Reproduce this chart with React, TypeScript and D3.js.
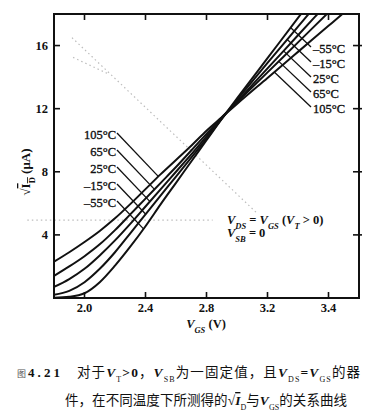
import React from "react";
import * as d3 from "d3";

// Gate-source voltage (V) sample points
const vgs = [1.8, 1.9, 2.0, 2.1, 2.2, 2.3, 2.4, 2.5, 2.6, 2.7, 2.8, 2.9, 3.0, 3.2, 3.4, 3.6, 3.8];

// sqrt(I_D) in sqrt(uA) per temperature
const sqrtIdM55 = [0.02, 0.08, 0.3, 1.0, 2.05, 3.25, 4.55, 5.95, 7.3, 8.65, 10.0, 11.35, 12.65, 15.2, 17.75, 20.25, 22.7];
const sqrtIdM15 = [0.2, 0.45, 1.0, 1.85, 2.9, 4.1, 5.3, 6.5, 7.7, 8.9, 10.1, 11.35, 12.55, 14.9, 17.2, 19.5, 21.8];
const sqrtId25 = [0.7, 1.2, 1.85, 2.7, 3.65, 4.7, 5.8, 6.9, 8.0, 9.1, 10.25, 11.4, 12.45, 14.55, 16.65, 18.75, 20.85];
const sqrtId65 = [1.4, 2.0, 2.65, 3.4, 4.3, 5.3, 6.3, 7.3, 8.3, 9.35, 10.4, 11.45, 12.4, 14.3, 16.2, 18.1, 20.0];
const sqrtId105 = [2.3, 2.9, 3.55, 4.25, 5.05, 5.95, 6.9, 7.85, 8.75, 9.65, 10.6, 11.45, 12.3, 13.95, 15.6, 17.25, 18.9];

const temps = ["\u201355\u00b0C", "\u201315\u00b0C", "25\u00b0C", "65\u00b0C", "105\u00b0C"];
const seriesValues = [sqrtIdM55, sqrtIdM15, sqrtId25, sqrtId65, sqrtId105];

const xTicks = [2.0, 2.4, 2.8, 3.2, 3.6];
const xTickLabels = ["2.0", "2.4", "2.8", "3.2", "3.4"];
const yTicks = [4, 8, 12, 16];
const yTickLabels = ["4", "8", "12", "16"];

// order of temperature labels (indices into temps)
const leftLabelOrder = [4, 3, 2, 1, 0];
const rightLabelOrder = [0, 1, 2, 3, 4];

// faint bleed-through dotted marks seen on the scan (data coords)
const scanDotsA = [[1.918, 16.5], [3.131, 5.38]];
const scanDotsB = [[1.925, 15.25], [2.148, 14.24]];
const scanDotsC = [[1.625, 4.94], [2.84, 4.94]];

const W = 377;
const H = 412;
const M = { left: 54, right: 359, top: 14, bottom: 298 };

const serif = "'Liberation Serif', 'DejaVu Serif', serif";
const cjk = "'Noto Sans CJK SC', sans-serif";

export default function App() {
  const x = d3.scaleLinear().domain([1.8, 3.8]).range([M.left, M.right]);
  const y = d3.scaleLinear().domain([0, 18]).range([M.bottom, M.top]);

  const line = d3
    .line<number>()
    .x((_, i) => x(vgs[i]))
    .y((d) => y(d))
    .curve(d3.curveMonotoneX);

  const curveYAt = (values: number[], px: number) => {
    const v = x.invert(px);
    let i = d3.bisectRight(vgs, v) - 1;
    i = Math.max(0, Math.min(vgs.length - 2, i));
    const t = (v - vgs[i]) / (vgs[i + 1] - vgs[i]);
    return y(values[i] + t * (values[i + 1] - values[i]));
  };

  const leaderEnd = (values: number[], sx: number, sy: number, dir: number, slope: number) => {
    for (let s = 0; s < 250; s += 0.25) {
      const px = sx + dir * s;
      const ly = dir > 0 ? sy + slope * s : sy - slope * s;
      const cy = curveYAt(values, px);
      if (dir > 0 ? ly >= cy : ly <= cy) return [px, ly];
    }
    return [sx, sy];
  };

  const dotted = (pts: number[][]) =>
    d3.line<number[]>().x((d) => x(d[0])).y((d) => y(d[1]))(pts) || "";

  return (
    <div style={{ position: "absolute", left: 0, top: 0 }}>
      <svg width={W} height={H} style={{ display: "block", background: "#fff" }}>
        <defs>
          <clipPath id="plotClip">
            <rect x={M.left} y={M.top} width={M.right - M.left} height={M.bottom - M.top} />
          </clipPath>
        </defs>

        {/* scan bleed-through */}
        <g stroke="#bdbdbd" strokeWidth={1.2} strokeDasharray="1.5 3" fill="none">
          <path d={dotted(scanDotsA)} />
          <path d={dotted(scanDotsB)} />
          <path d={dotted(scanDotsC)} />
        </g>

        {/* curves */}
        <g clipPath="url(#plotClip)" fill="none" stroke="#111" strokeWidth={2}>
          {seriesValues.map((vals, i) => (
            <path key={temps[i]} d={line(vals) || ""} />
          ))}
        </g>

        {/* frame */}
        <rect
          x={M.left}
          y={M.top}
          width={M.right - M.left}
          height={M.bottom - M.top}
          fill="none"
          stroke="#111"
          strokeWidth={2}
        />

        {/* ticks */}
        <g stroke="#111" strokeWidth={1.6}>
          {xTicks.map((t) => (
            <g key={"xt" + t}>
              <line x1={x(t)} x2={x(t)} y1={M.bottom} y2={M.bottom - 6} />
              <line x1={x(t)} x2={x(t)} y1={M.top} y2={M.top + 6} />
            </g>
          ))}
          {yTicks.map((t) => (
            <g key={"yt" + t}>
              <line x1={M.left} x2={M.left + 6} y1={y(t)} y2={y(t)} />
              <line x1={M.right + 3} x2={M.right - 6} y1={y(t)} y2={y(t)} />
            </g>
          ))}
        </g>

        {/* tick labels */}
        <g fontFamily={serif} fontSize={12.5} fontWeight="bold" fill="#111">
          {xTicks.map((t, i) => (
            <text key={"xl" + t} x={x(t)} y={M.bottom + 14} textAnchor="middle">
              {xTickLabels[i]}
            </text>
          ))}
          {yTicks.map((t, i) => (
            <text key={"yl" + t} x={M.left - 6} y={y(t) + 4.5} textAnchor="end">
              {yTickLabels[i]}
            </text>
          ))}
        </g>

        {/* axis titles */}
        <text
          transform="translate(30,172) rotate(-90)"
          textAnchor="middle"
          fontFamily={serif}
          fontSize={13}
          fontWeight="bold"
          fill="#111"
        >
          <tspan>{"\u221a"}</tspan>
          <tspan style={{ textDecoration: "overline" }}>
            I<tspan fontSize={8.5} baselineShift="sub">D</tspan>
          </tspan>
          <tspan> ({"\u03bc"}A)</tspan>
        </text>
        <text x={206} y={328} textAnchor="middle" fontFamily={serif} fontSize={12.5} fontWeight="bold" fill="#111">
          <tspan fontStyle="italic">V</tspan>
          <tspan fontStyle="italic" fontSize={8.5} baselineShift="sub">GS</tspan>
          <tspan> (V)</tspan>
        </text>

        {/* left labels with leaders */}
        <g fontFamily={serif} fontSize={12.5} fill="#111">
          {leftLabelOrder.map((ti, k) => {
            const yc = 135 + k * 17;
            const [ex, ey] = leaderEnd(seriesValues[ti], 117, yc - 2, 1, 1.05);
            return (
              <g key={"ll" + ti}>
                <text x={116} y={yc + 4} textAnchor="end" stroke="#111" strokeWidth={0.35}>
                  {temps[ti]}
                </text>
                <line x1={117} y1={yc - 2} x2={ex} y2={ey} stroke="#111" strokeWidth={1.3} />
              </g>
            );
          })}
        </g>

        {/* right labels with leaders */}
        <g fontFamily={serif} fontSize={12.5} fill="#111">
          {rightLabelOrder.map((ti, k) => {
            const yc = 49 + k * 15;
            const [ex, ey] = leaderEnd(seriesValues[ti], 311, yc - 2, -1, 0.95);
            return (
              <g key={"rl" + ti}>
                <text x={313} y={yc + 4} textAnchor="start" stroke="#111" strokeWidth={0.35}>
                  {temps[ti]}
                </text>
                <line x1={311} y1={yc - 2} x2={ex} y2={ey} stroke="#111" strokeWidth={1.3} />
              </g>
            );
          })}
        </g>

        {/* condition annotation */}
        <g fontFamily={serif} fontSize={12.5} fontWeight="bold" fill="#111">
          <text x={227} y={224}>
            <tspan fontStyle="italic">V</tspan>
            <tspan fontStyle="italic" fontSize={8.5} baselineShift="sub">DS</tspan>
            <tspan> = </tspan>
            <tspan fontStyle="italic">V</tspan>
            <tspan fontStyle="italic" fontSize={8.5} baselineShift="sub">GS</tspan>
            <tspan> (</tspan>
            <tspan fontStyle="italic">V</tspan>
            <tspan fontStyle="italic" fontSize={8.5} baselineShift="sub">T</tspan>
            <tspan> &gt; 0)</tspan>
          </text>
          <text x={227} y={237}>
            <tspan fontStyle="italic">V</tspan>
            <tspan fontStyle="italic" fontSize={8.5} baselineShift="sub">SB</tspan>
            <tspan> = 0</tspan>
          </text>
        </g>

        {/* caption */}
        <g fill="#111">
          <text x={17} y={377} fontFamily={cjk} fontSize={9} fill="#555">
            图
          </text>
          <text x={28} y={377} fontFamily={serif} fontSize={13} fontWeight="bold" textLength={32} lengthAdjust="spacing">
            4.21
          </text>
          <text x={77} y={377} fontFamily={cjk} fontSize={13.5} textLength={283} lengthAdjust="spacing">
            <tspan>对于</tspan>
            <tspan fontFamily={serif} fontStyle="italic" fontWeight="bold">V</tspan>
            <tspan fontFamily={serif} fontSize={8} baselineShift="sub">T</tspan>
            <tspan fontFamily={serif} fontWeight="bold">&gt;0</tspan>
            <tspan>，</tspan>
            <tspan fontFamily={serif} fontStyle="italic" fontWeight="bold">V</tspan>
            <tspan fontFamily={serif} fontSize={8} baselineShift="sub">SB</tspan>
            <tspan>为一固定值，且</tspan>
            <tspan fontFamily={serif} fontStyle="italic" fontWeight="bold">V</tspan>
            <tspan fontFamily={serif} fontSize={8} baselineShift="sub">DS</tspan>
            <tspan fontFamily={serif} fontWeight="bold">=</tspan>
            <tspan fontFamily={serif} fontStyle="italic" fontWeight="bold">V</tspan>
            <tspan fontFamily={serif} fontSize={8} baselineShift="sub">GS</tspan>
            <tspan>的器</tspan>
          </text>
          <text x={65} y={405} fontFamily={cjk} fontSize={13.5} textLength={282} lengthAdjust="spacing">
            <tspan>件，在不同温度下所测得的</tspan>
            <tspan fontFamily={serif}>{"\u221a"}</tspan>
            <tspan fontFamily={serif} fontStyle="italic" fontWeight="bold" style={{ textDecoration: "overline" }}>
              I
            </tspan>
            <tspan fontFamily={serif} fontSize={8} baselineShift="sub">D</tspan>
            <tspan>与</tspan>
            <tspan fontFamily={serif} fontStyle="italic" fontWeight="bold">V</tspan>
            <tspan fontFamily={serif} fontSize={8} baselineShift="sub">GS</tspan>
            <tspan>的关系曲线</tspan>
          </text>
        </g>
      </svg>
    </div>
  );
}
